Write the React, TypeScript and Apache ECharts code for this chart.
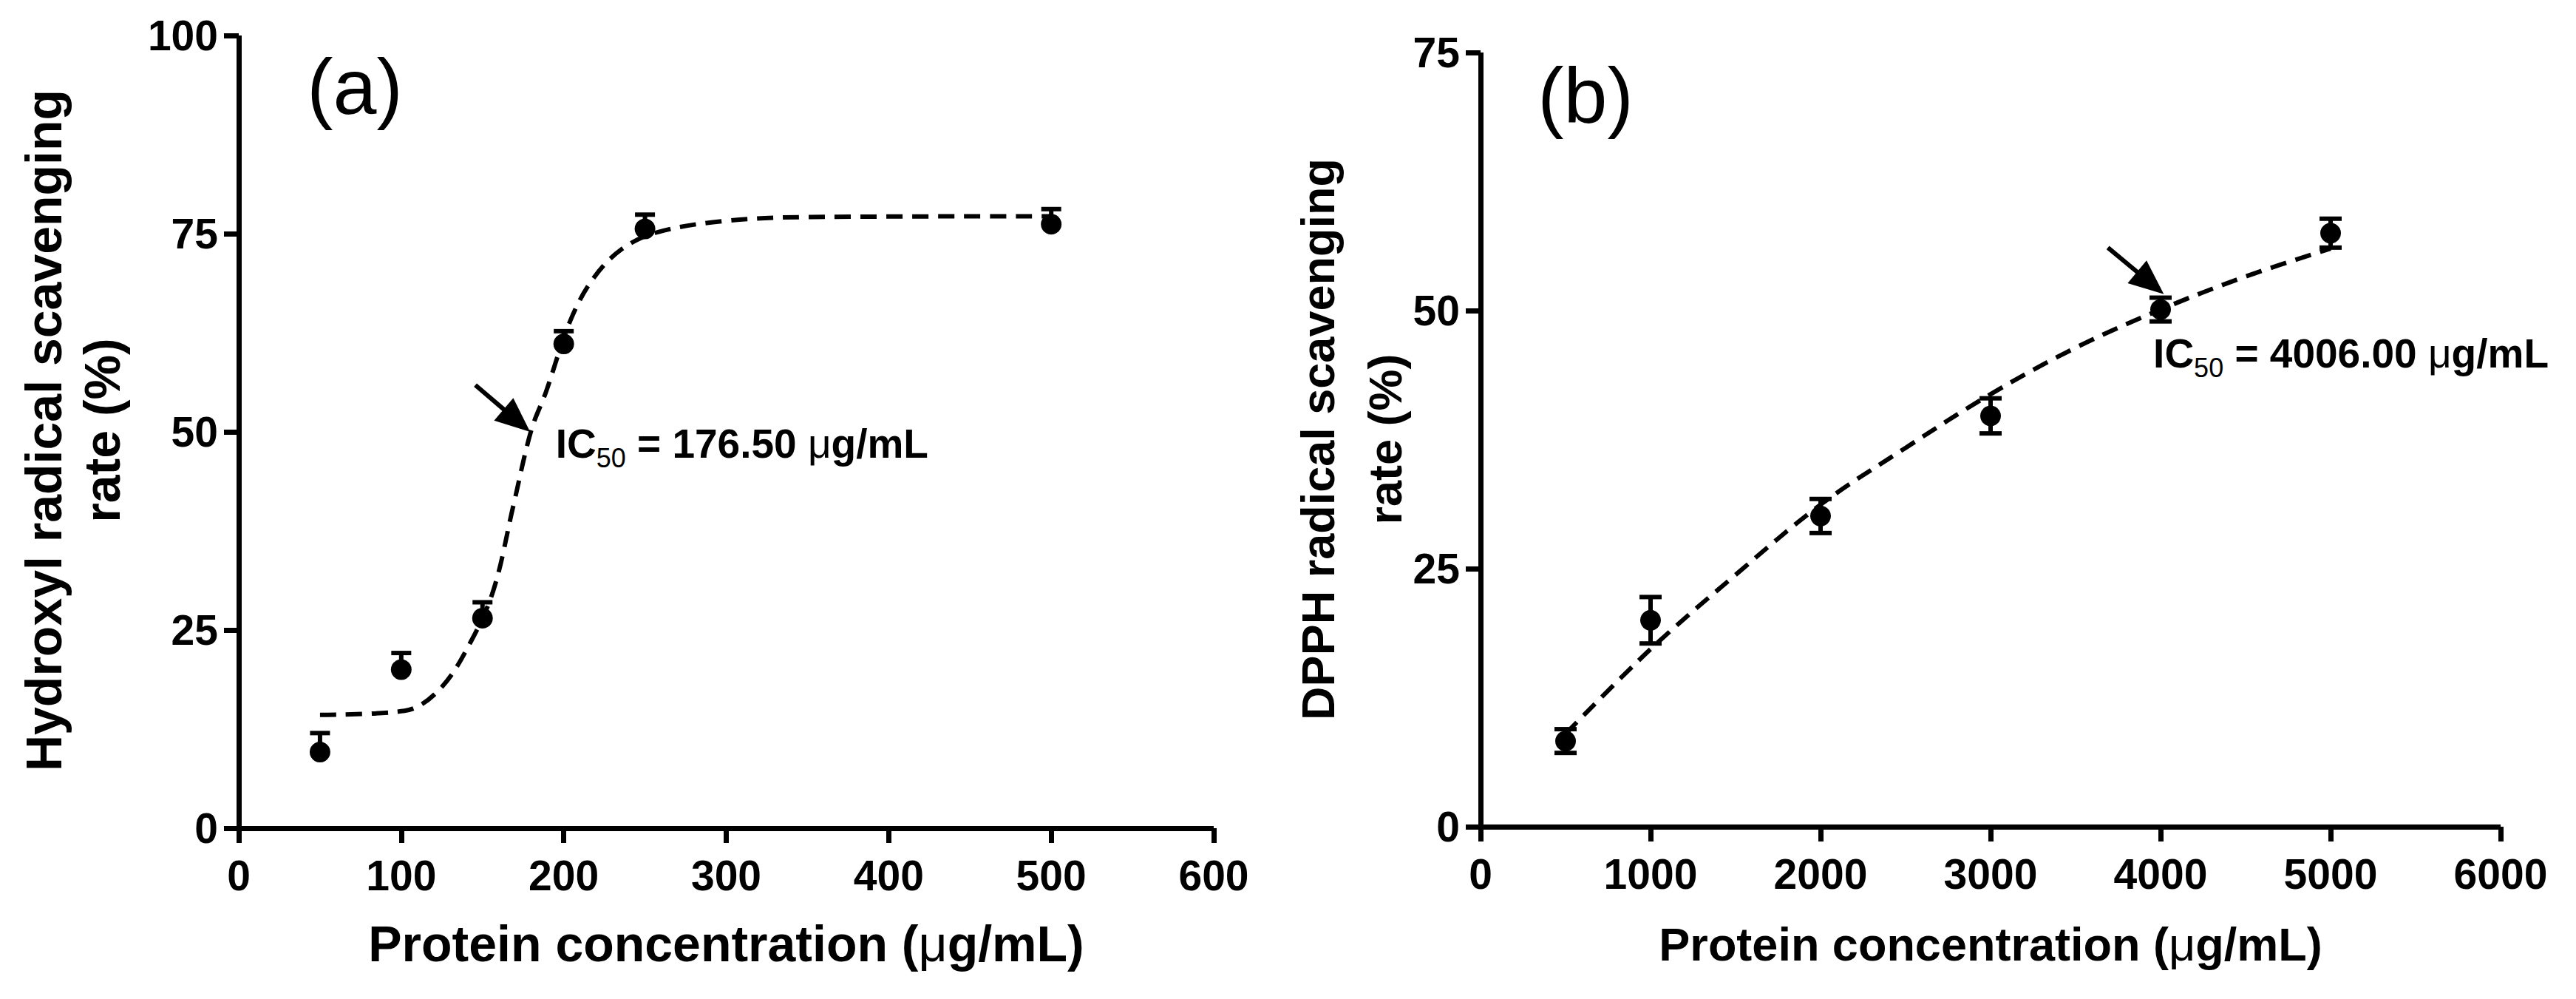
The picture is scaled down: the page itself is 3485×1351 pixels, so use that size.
import React, { useEffect, useRef } from "react";
import * as echarts from "echarts";

const W = 3485;
const H = 1351;
const FF = "'Liberation Sans', Arial, Helvetica, sans-serif";

// ---------- Panel (a): hydroxyl radical ----------
const aConc = [50, 100, 150, 200, 250, 500];
const aRate = [9.6, 20.0, 26.5, 61.1, 75.6, 76.2];
const aErrUp = [2.4, 2.1, 2.0, 1.6, 1.8, 1.9];
const aFitX = [50, 102, 124, 143, 157, 169, 180, 189, 204, 218, 236, 258, 299, 352, 500];
const aFitY = [14.3, 14.8, 17.6, 23.6, 30.2, 40.7, 50.2, 55.0, 64.0, 69.3, 73.1, 75.2, 76.6, 77.1, 77.2];
const aXMax = 600;
const aXStep = 100;
const aYMax = 100;
const aYStep = 25;
const aArrow = [145.6, 55.9, 179.3, 50.0];
const aLabelAt = [195, 46.7];
const aLabelParts = ["IC", "50", " = 176.50 ", "\u03bc", "g/mL"];
const aYTitle = ["Hydroxyl radical scavenging", "rate (%)"];

// ---------- Panel (b): DPPH radical ----------
const bConc = [500, 1000, 2000, 3000, 4000, 5000];
const bRate = [8.3, 20.0, 30.1, 39.8, 50.1, 57.5];
const bErr = [1.15, 2.25, 1.65, 1.7, 1.15, 1.4];
const bFitX = [500, 1000, 1500, 2000, 2500, 3000, 3500, 4000, 4500, 5000];
const bFitY = [9.0, 17.2, 24.4, 31.2, 36.7, 41.9, 46.4, 50.1, 53.3, 56.0];
const bXMax = 6000;
const bXStep = 1000;
const bYMax = 75;
const bYStep = 25;
const bArrow = [3690, 56.1, 4019, 51.6];
const bLabelAt = [3957, 44.5];
const bLabelParts = ["IC", "50", " = 4006.00 ", "\u03bc", "g/mL"];
const bYTitle = ["DPPH radical scavenging", "rate (%)"];

const xTitleRich = "{b|Protein concentration (}{m|\u03bc}{b|g/mL)}";

let measureCtx: CanvasRenderingContext2D | null = null;
function measure(text: string, font: string): number {
  if (!measureCtx) measureCtx = document.createElement("canvas").getContext("2d");
  if (!measureCtx) return text.length * 30;
  measureCtx.font = font;
  return measureCtx.measureText(text).width;
}

const MAIN = 55;
const SUB = 36;
const partFonts = [
  { font: `bold ${MAIN}px ${FF}`, size: MAIN, dy: 0 },
  { font: `normal ${SUB}px ${FF}`, size: SUB, dy: 13 },
  { font: `bold ${MAIN}px ${FF}`, size: MAIN, dy: 0 },
  { font: `normal ${MAIN}px ${FF}`, size: MAIN, dy: 0 },
  { font: `bold ${MAIN}px ${FF}`, size: MAIN, dy: 0 },
];

function xAxisOpt(idx: number, max: number, step: number, nameGap: number, nameSize: number) {
  return {
    type: "value",
    gridIndex: idx,
    min: 0,
    max,
    interval: step,
    axisLine: { show: true, onZero: false, lineStyle: { color: "#000", width: 7, cap: "butt" } },
    axisTick: { show: true, inside: false, length: 20, lineStyle: { color: "#000", width: 7 } },
    axisLabel: {
      show: true,
      margin: 35,
      color: "#000",
      fontSize: 57,
      fontWeight: "bold",
      fontFamily: FF,
      lineHeight: 57,
      showMinLabel: true,
      showMaxLabel: true,
      formatter: (v: number) => String(v),
    },
    splitLine: { show: false },
    name: xTitleRich,
    nameLocation: "middle",
    nameGap,
    nameTextStyle: {
      verticalAlign: "middle",
      align: "center",
      rich: {
        b: { fontSize: nameSize, fontWeight: "bold", fontFamily: FF, color: "#000", lineHeight: nameSize },
        m: { fontSize: nameSize, fontWeight: "normal", fontFamily: FF, color: "#000", lineHeight: nameSize },
      },
    },
  };
}

function yAxisOpt(idx: number, max: number, step: number) {
  return {
    type: "value",
    gridIndex: idx,
    min: 0,
    max,
    interval: step,
    axisLine: { show: true, onZero: false, lineStyle: { color: "#000", width: 7, cap: "butt" } },
    axisTick: { show: true, inside: false, length: 20, lineStyle: { color: "#000", width: 7 } },
    axisLabel: {
      show: true,
      margin: 28,
      color: "#000",
      fontSize: 57,
      fontWeight: "bold",
      fontFamily: FF,
      showMinLabel: true,
      showMaxLabel: true,
      formatter: (v: number) => String(v),
    },
    splitLine: { show: false },
  };
}

function errorSeries(idx: number, xs: number[], ys: number[], errs: number[], both: boolean, capW: number) {
  return {
    type: "custom",
    xAxisIndex: idx,
    yAxisIndex: idx,
    z: 3,
    silent: true,
    encode: { x: 0, y: [1, 2] },
    data: xs.map((x, i) => [x, both ? ys[i] - errs[i] : ys[i], ys[i] + errs[i]]),
    renderItem: (_p: any, api: any) => {
      const x = api.value(0);
      const lo = api.coord([x, api.value(1)]);
      const hi = api.coord([x, api.value(2)]);
      const style = { stroke: "#000", lineWidth: 6, fill: "none" };
      const children: any[] = [
        { type: "line", shape: { x1: lo[0], y1: lo[1], x2: hi[0], y2: hi[1] }, style },
        { type: "line", shape: { x1: hi[0] - capW / 2, y1: hi[1], x2: hi[0] + capW / 2, y2: hi[1] }, style },
      ];
      if (both) {
        children.push({
          type: "line",
          shape: { x1: lo[0] - capW / 2, y1: lo[1], x2: lo[0] + capW / 2, y2: lo[1] },
          style,
        });
      }
      return { type: "group", children };
    },
  };
}

function arrowSeries(idx: number, arrow: number[]) {
  return {
    type: "custom",
    xAxisIndex: idx,
    yAxisIndex: idx,
    z: 5,
    silent: true,
    data: [arrow],
    renderItem: (_p: any, api: any) => {
      const p1 = api.coord([api.value(0), api.value(1)]);
      const p2 = api.coord([api.value(2), api.value(3)]);
      const dx = p2[0] - p1[0];
      const dy = p2[1] - p1[1];
      const L = Math.hypot(dx, dy) || 1;
      const ux = dx / L;
      const uy = dy / L;
      const hl = 47;
      const hw = 20;
      const bx = p2[0] - ux * hl;
      const by = p2[1] - uy * hl;
      return {
        type: "group",
        children: [
          {
            type: "line",
            shape: { x1: p1[0], y1: p1[1], x2: bx + ux * 6, y2: by + uy * 6 },
            style: { stroke: "#000", lineWidth: 6 },
          },
          {
            type: "polygon",
            shape: {
              points: [
                [p2[0], p2[1]],
                [bx - uy * hw, by + ux * hw],
                [bx + uy * hw, by - ux * hw],
              ],
            },
            style: { fill: "#000", stroke: "none" },
          },
        ],
      };
    },
  };
}

function labelSeries(idx: number, at: number[], parts: string[]) {
  return {
    type: "custom",
    xAxisIndex: idx,
    yAxisIndex: idx,
    z: 6,
    silent: true,
    data: [at],
    renderItem: (_p: any, api: any) => {
      const p = api.coord([api.value(0), api.value(1)]);
      let x = p[0];
      const children: any[] = [];
      parts.forEach((t, i) => {
        const f = partFonts[i];
        const baseline = p[1] + f.dy;
        children.push({
          type: "text",
          x,
          y: baseline - 0.3465 * f.size,
          style: {
            text: t,
            font: f.font,
            fill: "#000",
            textAlign: "left",
            textVerticalAlign: "middle",
          },
        });
        x += measure(t, f.font);
      });
      return { type: "group", children };
    },
  };
}

function fitSeries(idx: number, xs: number[], ys: number[]) {
  return {
    type: "line",
    xAxisIndex: idx,
    yAxisIndex: idx,
    z: 2,
    silent: true,
    showSymbol: false,
    symbol: "none",
    smooth: 0.35,
    data: xs.map((x, i) => [x, ys[i]]),
    lineStyle: { color: "#000", width: 6, type: [22, 13], cap: "butt", opacity: 1 },
  };
}

function pointSeries(idx: number, xs: number[], ys: number[]) {
  return {
    type: "scatter",
    xAxisIndex: idx,
    yAxisIndex: idx,
    z: 4,
    silent: true,
    symbol: "circle",
    symbolSize: 28,
    itemStyle: { color: "#000", opacity: 1 },
    data: xs.map((x, i) => [x, ys[i]]),
  };
}

function rotTitle(x: number, y: number, text: string, size: number) {
  return {
    type: "text",
    x,
    y,
    rotation: Math.PI / 2,
    style: {
      text,
      font: `bold ${size}px ${FF}`,
      fill: "#000",
      textAlign: "center",
      textVerticalAlign: "middle",
    },
  };
}

function panelTag(x: number, baseline: number, text: string) {
  const size = 106;
  return {
    type: "text",
    x,
    y: baseline - 0.3465 * size,
    style: {
      text,
      font: `normal ${size}px ${FF}`,
      fill: "#000",
      textAlign: "center",
      textVerticalAlign: "middle",
    },
  };
}

export default function App() {
  const ref = useRef<HTMLDivElement | null>(null);

  useEffect(() => {
    document.body.style.margin = "0";
    document.body.style.overflow = "hidden";
    if (!ref.current) return;
    const chart = echarts.init(ref.current, undefined, { renderer: "svg", width: W, height: H });

    const option: any = {
      animation: false,
      backgroundColor: "#fff",
      grid: [
        { left: 323, top: 48, width: 1319, height: 1072, containLabel: false },
        { left: 2003, top: 71, width: 1380, height: 1047, containLabel: false },
      ],
      xAxis: [xAxisOpt(0, aXMax, aXStep, 156, 68), xAxisOpt(1, bXMax, bXStep, 159, 63)],
      yAxis: [yAxisOpt(0, aYMax, aYStep), yAxisOpt(1, bYMax, bYStep)],
      series: [
        fitSeries(0, aFitX, aFitY),
        errorSeries(0, aConc, aRate, aErrUp, false, 27),
        pointSeries(0, aConc, aRate),
        arrowSeries(0, aArrow),
        labelSeries(0, aLabelAt, aLabelParts),
        fitSeries(1, bFitX, bFitY),
        errorSeries(1, bConc, bRate, bErr, true, 30),
        pointSeries(1, bConc, bRate),
        arrowSeries(1, bArrow),
        labelSeries(1, bLabelAt, bLabelParts),
      ],
      graphic: [
        rotTitle(59, 582, aYTitle[0], 68),
        rotTitle(138, 582, aYTitle[1], 68),
        rotTitle(1783, 594, bYTitle[0], 63),
        rotTitle(1874, 594, bYTitle[1], 63),
        panelTag(480, 153.5, "(a)"),
        panelTag(2145, 166, "(b)"),
      ],
    };

    chart.setOption(option);
    return () => {
      chart.dispose();
    };
  }, []);

  return <div ref={ref} style={{ width: W, height: H, background: "#fff" }} />;
}
